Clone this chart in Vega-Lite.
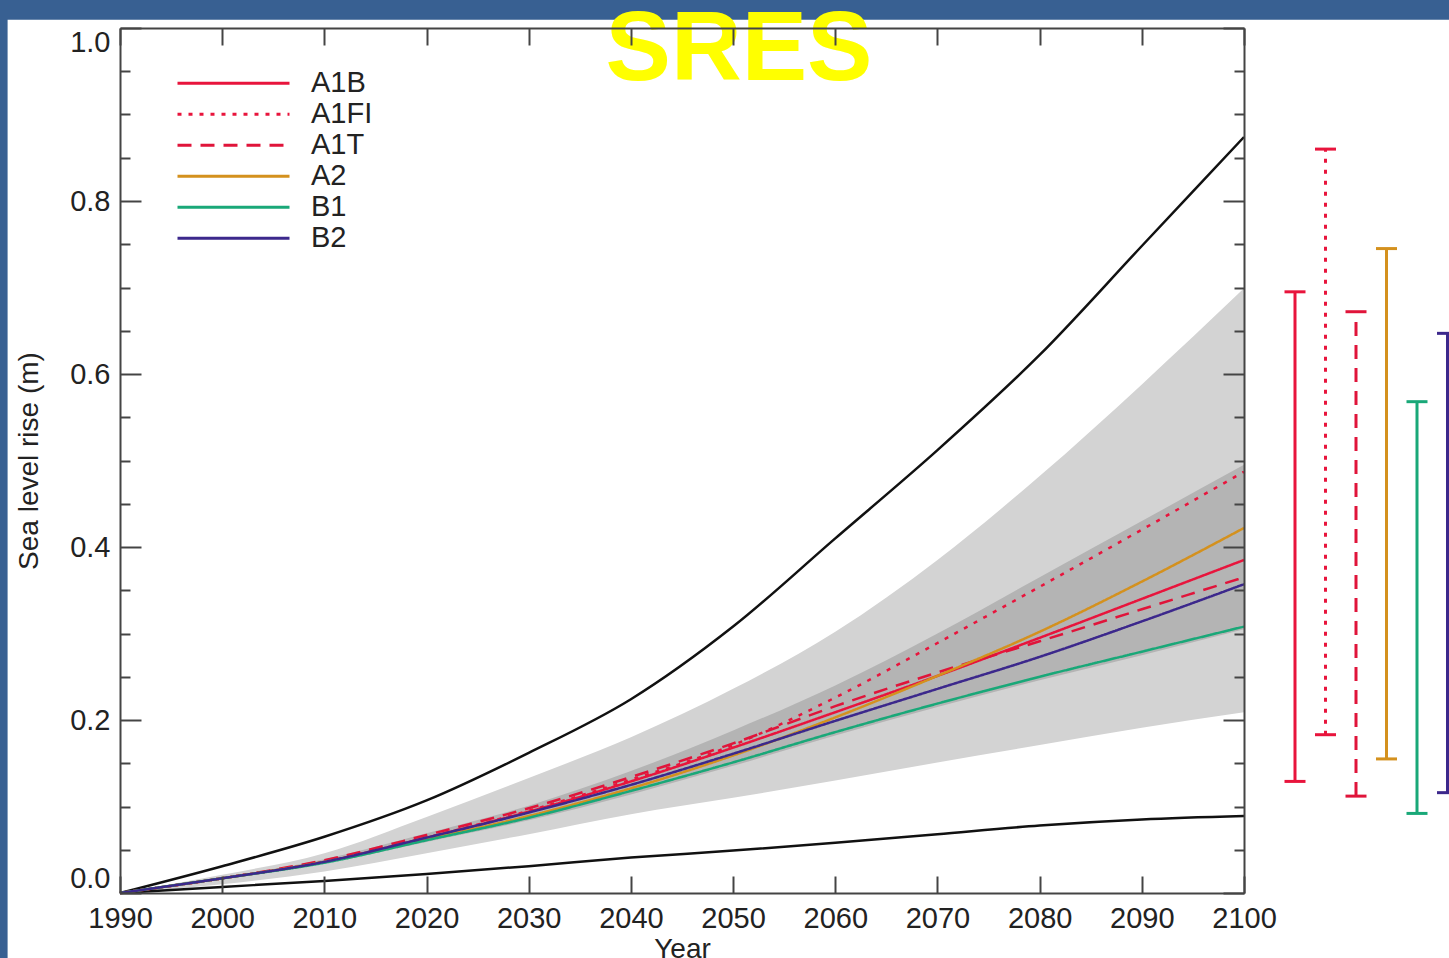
{
  "$schema": "https://vega.github.io/schema/vega-lite/v6.json",
  "width": 1124,
  "height": 865,
  "autosize": {"type": "none"},
  "padding": {"left": 120, "top": 28, "right": 205, "bottom": 65},
  "background": "#386092",
  "title": {"text": "SRES", "fontSize": 98, "font": "Liberation Sans", "fontWeight": "bold", "color": "#ffff00", "anchor": "middle", "dx": 57, "baseline": "alphabetic", "offset": -158},
  "datasets": {
    "scen": [
      {"scenario": "A1B", "year": 1990, "slr": 0}, {"scenario": "A1B", "year": 2000, "slr": 0.017}, {"scenario": "A1B", "year": 2010, "slr": 0.036}, {"scenario": "A1B", "year": 2020, "slr": 0.064}, {"scenario": "A1B", "year": 2030, "slr": 0.094}, {"scenario": "A1B", "year": 2040, "slr": 0.129}, {"scenario": "A1B", "year": 2050, "slr": 0.168}, {"scenario": "A1B", "year": 2060, "slr": 0.209}, {"scenario": "A1B", "year": 2070, "slr": 0.251}, {"scenario": "A1B", "year": 2080, "slr": 0.295}, {"scenario": "A1B", "year": 2090, "slr": 0.340}, {"scenario": "A1B", "year": 2100, "slr": 0.385},
      {"scenario": "A1FI", "year": 1990, "slr": 0}, {"scenario": "A1FI", "year": 2000, "slr": 0.017}, {"scenario": "A1FI", "year": 2010, "slr": 0.036}, {"scenario": "A1FI", "year": 2020, "slr": 0.064}, {"scenario": "A1FI", "year": 2030, "slr": 0.095}, {"scenario": "A1FI", "year": 2040, "slr": 0.131}, {"scenario": "A1FI", "year": 2050, "slr": 0.171}, {"scenario": "A1FI", "year": 2060, "slr": 0.226}, {"scenario": "A1FI", "year": 2070, "slr": 0.289}, {"scenario": "A1FI", "year": 2080, "slr": 0.354}, {"scenario": "A1FI", "year": 2090, "slr": 0.420}, {"scenario": "A1FI", "year": 2100, "slr": 0.487},
      {"scenario": "A1T", "year": 1990, "slr": 0}, {"scenario": "A1T", "year": 2000, "slr": 0.017}, {"scenario": "A1T", "year": 2010, "slr": 0.038}, {"scenario": "A1T", "year": 2020, "slr": 0.067}, {"scenario": "A1T", "year": 2030, "slr": 0.098}, {"scenario": "A1T", "year": 2040, "slr": 0.134}, {"scenario": "A1T", "year": 2050, "slr": 0.173}, {"scenario": "A1T", "year": 2060, "slr": 0.216}, {"scenario": "A1T", "year": 2070, "slr": 0.255}, {"scenario": "A1T", "year": 2080, "slr": 0.291}, {"scenario": "A1T", "year": 2090, "slr": 0.328}, {"scenario": "A1T", "year": 2100, "slr": 0.365},
      {"scenario": "A2", "year": 1990, "slr": 0}, {"scenario": "A2", "year": 2000, "slr": 0.017}, {"scenario": "A2", "year": 2010, "slr": 0.036}, {"scenario": "A2", "year": 2020, "slr": 0.062}, {"scenario": "A2", "year": 2030, "slr": 0.089}, {"scenario": "A2", "year": 2040, "slr": 0.121}, {"scenario": "A2", "year": 2050, "slr": 0.159}, {"scenario": "A2", "year": 2060, "slr": 0.203}, {"scenario": "A2", "year": 2070, "slr": 0.251}, {"scenario": "A2", "year": 2080, "slr": 0.302}, {"scenario": "A2", "year": 2090, "slr": 0.360}, {"scenario": "A2", "year": 2100, "slr": 0.422},
      {"scenario": "B1", "year": 1990, "slr": 0}, {"scenario": "B1", "year": 2000, "slr": 0.017}, {"scenario": "B1", "year": 2010, "slr": 0.035}, {"scenario": "B1", "year": 2020, "slr": 0.061}, {"scenario": "B1", "year": 2030, "slr": 0.087}, {"scenario": "B1", "year": 2040, "slr": 0.118}, {"scenario": "B1", "year": 2050, "slr": 0.151}, {"scenario": "B1", "year": 2060, "slr": 0.186}, {"scenario": "B1", "year": 2070, "slr": 0.219}, {"scenario": "B1", "year": 2080, "slr": 0.250}, {"scenario": "B1", "year": 2090, "slr": 0.279}, {"scenario": "B1", "year": 2100, "slr": 0.308},
      {"scenario": "B2", "year": 1990, "slr": 0}, {"scenario": "B2", "year": 2000, "slr": 0.017}, {"scenario": "B2", "year": 2010, "slr": 0.036}, {"scenario": "B2", "year": 2020, "slr": 0.064}, {"scenario": "B2", "year": 2030, "slr": 0.093}, {"scenario": "B2", "year": 2040, "slr": 0.125}, {"scenario": "B2", "year": 2050, "slr": 0.161}, {"scenario": "B2", "year": 2060, "slr": 0.199}, {"scenario": "B2", "year": 2070, "slr": 0.236}, {"scenario": "B2", "year": 2080, "slr": 0.273}, {"scenario": "B2", "year": 2090, "slr": 0.314}, {"scenario": "B2", "year": 2100, "slr": 0.357}
    ],
    "bands": [
      {"year": 1990, "light_lo": 0, "light_hi": 0, "dark_lo": 0, "dark_hi": 0},
      {"year": 2000, "light_lo": 0.010, "light_hi": 0.021, "dark_lo": 0.016, "dark_hi": 0.018},
      {"year": 2010, "light_lo": 0.025, "light_hi": 0.046, "dark_lo": 0.034, "dark_hi": 0.039},
      {"year": 2020, "light_lo": 0.046, "light_hi": 0.088, "dark_lo": 0.059, "dark_hi": 0.069},
      {"year": 2030, "light_lo": 0.068, "light_hi": 0.133, "dark_lo": 0.084, "dark_hi": 0.101},
      {"year": 2040, "light_lo": 0.091, "light_hi": 0.180, "dark_lo": 0.114, "dark_hi": 0.141},
      {"year": 2050, "light_lo": 0.110, "light_hi": 0.236, "dark_lo": 0.147, "dark_hi": 0.188},
      {"year": 2060, "light_lo": 0.130, "light_hi": 0.302, "dark_lo": 0.182, "dark_hi": 0.240},
      {"year": 2070, "light_lo": 0.151, "light_hi": 0.385, "dark_lo": 0.215, "dark_hi": 0.300},
      {"year": 2080, "light_lo": 0.171, "light_hi": 0.482, "dark_lo": 0.246, "dark_hi": 0.365},
      {"year": 2090, "light_lo": 0.191, "light_hi": 0.588, "dark_lo": 0.275, "dark_hi": 0.430},
      {"year": 2100, "light_lo": 0.209, "light_hi": 0.699, "dark_lo": 0.305, "dark_hi": 0.495}
    ],
    "bounds": [
      {"bound": "upper", "year": 1990, "slr": 0}, {"bound": "upper", "year": 2000, "slr": 0.031}, {"bound": "upper", "year": 2010, "slr": 0.065}, {"bound": "upper", "year": 2020, "slr": 0.107}, {"bound": "upper", "year": 2030, "slr": 0.162}, {"bound": "upper", "year": 2040, "slr": 0.224}, {"bound": "upper", "year": 2050, "slr": 0.308}, {"bound": "upper", "year": 2060, "slr": 0.410}, {"bound": "upper", "year": 2070, "slr": 0.512}, {"bound": "upper", "year": 2080, "slr": 0.622}, {"bound": "upper", "year": 2090, "slr": 0.748}, {"bound": "upper", "year": 2100, "slr": 0.874},
      {"bound": "lower", "year": 1990, "slr": 0}, {"bound": "lower", "year": 2000, "slr": 0.007}, {"bound": "lower", "year": 2010, "slr": 0.014}, {"bound": "lower", "year": 2020, "slr": 0.022}, {"bound": "lower", "year": 2030, "slr": 0.031}, {"bound": "lower", "year": 2040, "slr": 0.041}, {"bound": "lower", "year": 2050, "slr": 0.049}, {"bound": "lower", "year": 2060, "slr": 0.058}, {"bound": "lower", "year": 2070, "slr": 0.068}, {"bound": "lower", "year": 2080, "slr": 0.078}, {"bound": "lower", "year": 2090, "slr": 0.085}, {"bound": "lower", "year": 2100, "slr": 0.089}
    ],
    "ranges": [
      {"scenario": "A1B", "lo": 0.129, "hi": 0.695},
      {"scenario": "A1FI", "lo": 0.183, "hi": 0.860},
      {"scenario": "A1T", "lo": 0.112, "hi": 0.672},
      {"scenario": "A2", "lo": 0.155, "hi": 0.745},
      {"scenario": "B1", "lo": 0.092, "hi": 0.568},
      {"scenario": "B2", "lo": 0.116, "hi": 0.647}
    ]
  },
  "layer": [
    {
      "layer": [
        {
          "data": {"values": [{}]},
          "mark": {"type": "rect", "fill": "#ffffff"},
          "encoding": {
            "x": {"datum": 1979, "type": "quantitative", "scale": {"domain": [1990, 2100], "nice": false, "zero": false}, "axis": null},
            "x2": {"datum": 2140},
            "y": {"datum": -0.1, "type": "quantitative", "scale": {"domain": [0, 1], "nice": false}, "axis": null},
            "y2": {"datum": 1.0095}
          }
        },
        {
          "data": {"name": "bands"},
          "mark": {"type": "area", "color": "#d3d3d3", "interpolate": "monotone"},
          "encoding": {
            "x": {"field": "year", "type": "quantitative", "scale": {"domain": [1990, 2100], "nice": false, "zero": false}, "axis": null},
            "y": {"field": "light_lo", "type": "quantitative", "scale": {"domain": [0, 1], "nice": false}, "axis": null},
            "y2": {"field": "light_hi"}
          }
        },
        {
          "data": {"name": "bands"},
          "mark": {"type": "area", "color": "#b4b4b4", "interpolate": "monotone"},
          "encoding": {
            "x": {"field": "year", "type": "quantitative", "scale": {"domain": [1990, 2100], "nice": false, "zero": false}, "axis": null},
            "y": {"field": "dark_lo", "type": "quantitative", "scale": {"domain": [0, 1], "nice": false}, "axis": null},
            "y2": {"field": "dark_hi"}
          }
        },
        {
          "data": {"name": "bounds"},
          "mark": {"type": "line", "color": "#111111", "strokeWidth": 2.5, "interpolate": "monotone"},
          "encoding": {
            "x": {"field": "year", "type": "quantitative", "scale": {"domain": [1990, 2100], "nice": false, "zero": false},
                  "axis": {"orient": "top", "zindex": 2, "title": null, "labels": false, "values": [1990, 2000, 2010, 2020, 2030, 2040, 2050, 2060, 2070, 2080, 2090, 2100], "tickSize": -17}},
            "y": {"field": "slr", "type": "quantitative", "scale": {"domain": [0, 1], "nice": false},
                  "axis": {"orient": "right", "zindex": 2, "title": null, "labels": false, "values": [0, 0.05, 0.1, 0.15, 0.2, 0.25, 0.3, 0.35, 0.4, 0.45, 0.5, 0.55, 0.6, 0.65, 0.7, 0.75, 0.8, 0.85, 0.9, 0.95, 1],
                           "tickSize": {"condition": {"test": "round(datum.value*20) % 4 == 0", "value": -21}, "value": -10}}},
            "detail": {"field": "bound", "type": "nominal"}
          }
        },
        {
          "data": {"name": "scen"},
          "mark": {"type": "line", "strokeWidth": 2.5, "interpolate": "monotone"},
          "encoding": {
            "x": {"field": "year", "type": "quantitative", "scale": {"domain": [1990, 2100], "nice": false, "zero": false},
                  "axis": {"orient": "bottom", "zindex": 2, "title": "Year", "values": [1990, 2000, 2010, 2020, 2030, 2040, 2050, 2060, 2070, 2080, 2090, 2100], "format": "d", "tickSize": -17, "labelPadding": 28, "labelFlush": false, "titlePadding": 2}},
            "y": {"field": "slr", "type": "quantitative", "scale": {"domain": [0, 1], "nice": false},
                  "axis": {"orient": "left", "zindex": 2, "title": "Sea level rise (m)", "values": [0, 0.05, 0.1, 0.15, 0.2, 0.25, 0.3, 0.35, 0.4, 0.45, 0.5, 0.55, 0.6, 0.65, 0.7, 0.75, 0.8, 0.85, 0.9, 0.95, 1],
                           "labelExpr": "round(datum.value*20) % 4 == 0 ? format(datum.value, '.1f') : ''",
                           "tickSize": {"condition": {"test": "round(datum.value*20) % 4 == 0", "value": -21}, "value": -10},
                           "labelPadding": 31, "labelFlush": true, "titlePadding": 26}},
            "color": {"field": "scenario", "type": "nominal",
                      "scale": {"domain": ["A1B", "A1FI", "A1T", "A2", "B1", "B2"], "range": ["#e8143c", "#e8143c", "#e0143a", "#d4911e", "#19a878", "#3c288c"]},
                      "legend": {"title": null}},
            "strokeDash": {"field": "scenario", "type": "nominal",
                      "scale": {"domain": ["A1B", "A1FI", "A1T", "A2", "B1", "B2"], "range": [[1, 0], [4, 7], [14, 9], [1, 0], [1, 0], [1, 0]]},
                      "legend": {"title": null}}
          }
        }
      ],
      "resolve": {"axis": {"x": "independent", "y": "independent"}}
    },
    {
      "data": {"name": "ranges"},
      "encoding": {
        "x": {"field": "scenario", "type": "nominal", "scale": {"type": "point", "domain": ["A1B", "A1FI", "A1T", "A2", "B1", "B2"], "range": [1175, 1327.5], "padding": 0}, "axis": null},
        "color": {"field": "scenario", "type": "nominal", "legend": null}
      },
      "layer": [
        {
          "mark": {"type": "rule", "strokeWidth": 3},
          "encoding": {
            "y": {"field": "lo", "type": "quantitative", "scale": {"domain": [0, 1], "nice": false}, "axis": null},
            "y2": {"field": "hi"},
            "strokeDash": {"field": "scenario", "type": "nominal", "legend": null}
          }
        },
        {
          "mark": {"type": "tick", "thickness": 3, "size": 21, "opacity": 1},
          "encoding": {"y": {"field": "lo", "type": "quantitative", "scale": {"domain": [0, 1], "nice": false}, "axis": null}}
        },
        {
          "mark": {"type": "tick", "thickness": 3, "size": 21, "opacity": 1},
          "encoding": {"y": {"field": "hi", "type": "quantitative", "scale": {"domain": [0, 1], "nice": false}, "axis": null}}
        }
      ]
    }
  ],
  "resolve": {"scale": {"x": "independent"}},
  "config": {
    "font": "Liberation Sans",
    "view": {"stroke": null},
    "axis": {"grid": false, "domainColor": "#444444", "domainWidth": 2, "tickColor": "#444444", "tickWidth": 2,
             "labelFont": "Liberation Sans", "labelFontSize": 29, "labelColor": "#222222",
             "titleFont": "Liberation Sans", "titleFontSize": 28, "titleFontWeight": "normal", "titleColor": "#222222"},
    "legend": {"orient": "none", "legendX": 56, "legendY": 40, "padding": 0, "symbolType": "stroke", "symbolSize": 12544, "symbolStrokeWidth": 3,
               "clipHeight": 30.4, "rowPadding": 0, "labelOffset": 20, "labelFont": "Liberation Sans", "labelFontSize": 29, "labelColor": "#222222"}
  }
}
